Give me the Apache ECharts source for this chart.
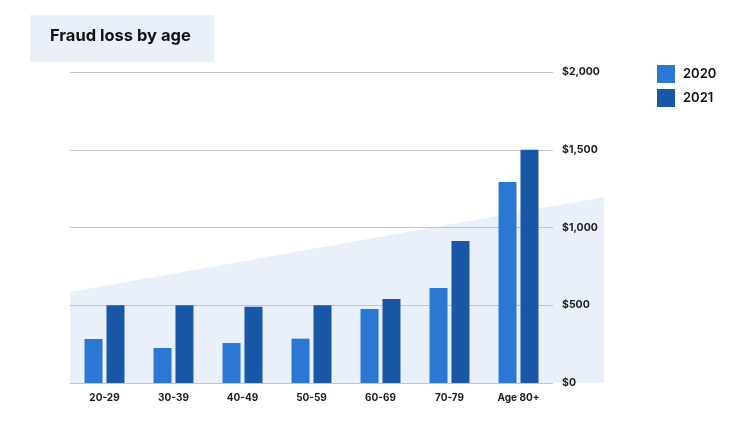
<!DOCTYPE html>
<html>
<head>
<meta charset="utf-8">
<script src="https://cdn.jsdelivr.net/npm/echarts@6/dist/echarts.min.js"></script>
<style>
html,body{margin:0;padding:0;background:#fff;}
#c{width:737px;height:421px;}
</style>
</head>
<body>
<div id="c"></div>
<script>
const categories = ['20-29', '30-39', '40-49', '50-59', '60-69', '70-79', 'Age 80+'];
const values2020 = [283, 225, 257, 285, 476, 611, 1293];
const values2021 = [500, 500, 490, 500, 540, 913, 1500];
const yTicks = [0, 500, 1000, 1500, 2000];
const bandEdgeValues = [585, 1196];

const chart = echarts.init(document.getElementById('c'));
const FONT = 'Inter';
chart.setOption({
  animation: false,
  grid: { left: 70, right: 184, top: 72, bottom: 38 },
  legend: {
    orient: 'vertical', left: 657, top: 65, padding: 0,
    itemWidth: 18, itemHeight: 18, itemGap: 6,
    icon: 'rect',
    textStyle: { fontFamily: FONT, fontSize: 13, fontWeight: 600, color: '#111', padding: [0, 0, 0, 3] },
    data: ['2020', '2021']
  },
  xAxis: {
    type: 'category', data: categories,
    axisLine: { show: false }, axisTick: { show: false },
    axisLabel: { fontFamily: FONT, fontSize: 10, fontWeight: 700, color: '#1a1a1a', margin: 10 }
  },
  yAxis: {
    type: 'value', position: 'right', min: yTicks[0], max: yTicks[yTicks.length - 1], interval: 500,
    axisLine: { show: false }, axisTick: { show: false },
    splitLine: { lineStyle: { color: '#c4c4c4', width: 1 } },
    axisLabel: { fontFamily: FONT, fontSize: 10.5, fontWeight: 700, color: '#1a1a1a', margin: 9,
      formatter: v => '$' + v.toLocaleString('en-US') }
  },
  series: [
    { name: '2020', type: 'bar', data: values2020, barWidth: 18, barGap: '22%', itemStyle: { color: '#2b78d4' } },
    { name: '2021', type: 'bar', data: values2021, barWidth: 18, itemStyle: { color: '#1757a5' } }
  ]
});

const y0 = chart.convertToPixel({ yAxisIndex: 0 }, 0);
const yL = chart.convertToPixel({ yAxisIndex: 0 }, bandEdgeValues[0]);
const yR = chart.convertToPixel({ yAxisIndex: 0 }, bandEdgeValues[1]);
const xL = chart.convertToPixel({ xAxisIndex: 0 }, categories[0]) - 34.5;
chart.setOption({
  graphic: [
    { type: 'polygon', z: -10, silent: true,
      shape: { points: [[xL, yL], [604, yR], [604, y0], [xL, y0]] },
      style: { fill: '#e9f0fa' } },
    { type: 'rect', z: -10, left: 30, top: 15, shape: { width: 184, height: 47 }, style: { fill: '#e9f0fa' } },
    { type: 'text', left: 50, top: 28, style: { text: 'Fraud loss by age', fontFamily: FONT, fontSize: 16.5, fontWeight: 700, fill: '#111' } }
  ]
});
</script>
</body>
</html>
